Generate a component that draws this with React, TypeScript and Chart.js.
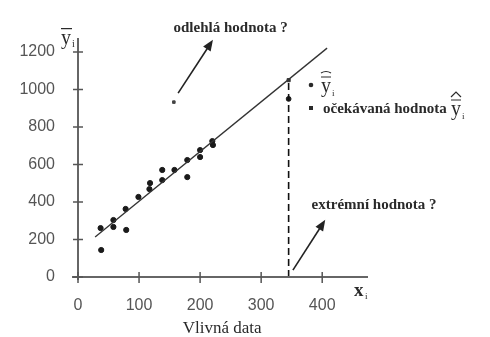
import React, { useEffect, useRef } from "react";
import { Chart, registerables } from "chart.js";

Chart.register(...registerables);

const xTicks = [0, 100, 200, 300, 400];
const yTicks = [0, 200, 400, 600, 800, 1000, 1200];
const obsX = [37, 38, 58, 58, 79, 78, 99, 118, 117, 138, 138, 158, 179, 179, 200, 200, 220, 221];
const obsY = [261, 144, 304, 267, 251, 363, 427, 501, 469, 571, 517, 571, 624, 533, 677, 640, 725, 704];
const fitX = [28, 408];
const fitY = [213, 1221];
const outlierX = [157];
const outlierY = [933];
const extremeX = [345];
const extremeY = [950];
const extremeFitY = [1050];
const dashX = [345, 345];
const dashY = [0, 1050];

const SERIF = "'Liberation Serif', 'DejaVu Serif', serif";
const SANS = "'Liberation Sans', Arial, sans-serif";

function drawArrow(ctx: CanvasRenderingContext2D, x1: number, y1: number, x2: number, y2: number) {
  const ang = Math.atan2(y2 - y1, x2 - x1);
  const hl = 11, hw = 4.5;
  ctx.save();
  ctx.strokeStyle = "#222";
  ctx.fillStyle = "#222";
  ctx.lineWidth = 1.6;
  ctx.beginPath();
  ctx.moveTo(x1, y1);
  ctx.lineTo(x2 - Math.cos(ang) * hl * 0.8, y2 - Math.sin(ang) * hl * 0.8);
  ctx.stroke();
  ctx.beginPath();
  ctx.moveTo(x2, y2);
  ctx.lineTo(x2 - Math.cos(ang) * hl - Math.sin(ang) * hw, y2 - Math.sin(ang) * hl + Math.cos(ang) * hw);
  ctx.lineTo(x2 - Math.cos(ang) * hl + Math.sin(ang) * hw, y2 - Math.sin(ang) * hl - Math.cos(ang) * hw);
  ctx.closePath();
  ctx.fill();
  ctx.restore();
}

const decorPlugin = {
  id: "decor",
  afterDraw(chart: any) {
    const ctx: CanvasRenderingContext2D = chart.ctx;
    const xs = chart.scales.x;
    const ys = chart.scales.y;
    const x0 = xs.getPixelForValue(0);
    const y0 = ys.getPixelForValue(0);
    ctx.save();
    // axes
    ctx.strokeStyle = "#666";
    ctx.lineWidth = 2;
    ctx.beginPath();
    ctx.moveTo(x0, y0 + 3);
    ctx.lineTo(x0, chart.chartArea.top);
    ctx.moveTo(x0 - 6, y0);
    ctx.lineTo(chart.chartArea.right, y0);
    ctx.stroke();
    ctx.lineWidth = 1.5;
    ctx.strokeStyle = "#555";
    ctx.beginPath();
    yTicks.forEach((v) => {
      const p = ys.getPixelForValue(v);
      ctx.moveTo(x0 - 5, p);
      ctx.lineTo(x0 + 5, p);
    });
    xTicks.forEach((v) => {
      const p = xs.getPixelForValue(v);
      ctx.moveTo(p, y0 - 5);
      ctx.lineTo(p, y0 + 6);
    });
    ctx.stroke();

    // texts
    ctx.fillStyle = "#2a2a2a";
    ctx.font = `bold 15px ${SERIF}`;
    ctx.textAlign = "center";
    ctx.textBaseline = "middle";
    ctx.fillText("odlehlá hodnota ?", xs.getPixelForValue(250), ys.getPixelForValue(1330));
    ctx.fillText("extrémní hodnota ?", xs.getPixelForValue(485), ys.getPixelForValue(385));
    ctx.font = `17px ${SERIF}`;
    ctx.fillText("Vlivná data", xs.getPixelForValue(236), ys.getPixelForValue(-273));

    // arrows
    drawArrow(ctx, xs.getPixelForValue(164), ys.getPixelForValue(981), xs.getPixelForValue(221), ys.getPixelForValue(1265));
    drawArrow(ctx, xs.getPixelForValue(352), ys.getPixelForValue(37), xs.getPixelForValue(405), ys.getPixelForValue(305));

    // y axis label  (y with bar, subscript i)
    ctx.textAlign = "left";
    ctx.textBaseline = "alphabetic";
    ctx.font = `20px ${SERIF}`;
    const yl = x0 - 17, yb = ys.getPixelForValue(1245);
    ctx.fillText("y", yl, yb);
    ctx.font = `10px ${SERIF}`;
    ctx.fillText("i", yl + 11, yb + 3);
    ctx.lineWidth = 1.2;
    ctx.strokeStyle = "#2a2a2a";
    ctx.beginPath();
    ctx.moveTo(yl, yb - 15);
    ctx.lineTo(yl + 11, yb - 15);
    ctx.stroke();

    // x axis label
    ctx.font = `bold 19px ${SERIF}`;
    const xl = xs.getPixelForValue(452), xb = ys.getPixelForValue(-100);
    ctx.fillText("x", xl, xb);
    ctx.font = `9px ${SERIF}`;
    ctx.fillText("i", xl + 11, xb + 3);

    // legend
    const lx = 311;
    ctx.beginPath();
    ctx.arc(lx, 85, 2.3, 0, Math.PI * 2);
    ctx.fill();
    ctx.font = `20px ${SERIF}`;
    ctx.fillText("y", 321, 92);
    ctx.font = `9px ${SERIF}`;
    ctx.fillText("i", 332, 96);
    ctx.beginPath();
    ctx.moveTo(321, 77);
    ctx.lineTo(331, 77);
    ctx.moveTo(321, 73);
    ctx.quadraticCurveTo(326, 70, 331, 73);
    ctx.stroke();

    ctx.fillRect(lx - 2, 106, 4, 4);
    ctx.font = `bold 15px ${SERIF}`;
    ctx.fillText("očekávaná hodnota", 323, 113);
    ctx.font = `20px ${SERIF}`;
    const hx = 451;
    ctx.fillText("y", hx, 115);
    ctx.font = `9px ${SERIF}`;
    ctx.fillText("i", hx + 11, 119);
    ctx.beginPath();
    ctx.moveTo(hx, 100);
    ctx.lineTo(hx + 10, 100);
    ctx.moveTo(hx, 97);
    ctx.lineTo(hx + 5, 92);
    ctx.lineTo(hx + 10, 97);
    ctx.stroke();
    ctx.restore();
  },
};

export default function App() {
  const ref = useRef<HTMLCanvasElement | null>(null);
  useEffect(() => {
    document.body.style.margin = "0";
    const canvas = ref.current;
    if (!canvas) return;
    const chart = new Chart(canvas, {
      type: "scatter",
      data: {
        datasets: [
          {
            type: "line",
            data: fitX.map((x, i) => ({ x, y: fitY[i] })),
            borderColor: "#333",
            borderWidth: 1.3,
            pointRadius: 0,
          } as any,
          {
            type: "line",
            data: dashX.map((x, i) => ({ x, y: dashY[i] })),
            borderColor: "#111",
            borderWidth: 1.6,
            borderDash: [7, 4],
            pointRadius: 0,
          } as any,
          {
            data: obsX.map((x, i) => ({ x, y: obsY[i] })),
            backgroundColor: "#1a1a1a",
            borderColor: "#1a1a1a",
            pointRadius: 2.6,
          },
          {
            data: outlierX.map((x, i) => ({ x, y: outlierY[i] })),
            backgroundColor: "#444",
            borderColor: "#444",
            pointStyle: "rect",
            pointRadius: 1.8,
          },
          {
            data: extremeX.map((x, i) => ({ x, y: extremeY[i] })),
            backgroundColor: "#1a1a1a",
            borderColor: "#1a1a1a",
            pointRadius: 2.4,
          },
          {
            data: extremeX.map((x, i) => ({ x, y: extremeFitY[i] })),
            backgroundColor: "#333",
            borderColor: "#333",
            pointStyle: "rect",
            pointRadius: 2.2,
          },
        ],
      },
      plugins: [decorPlugin],
      options: {
        animation: false,
        responsive: false,
        devicePixelRatio: 1,
        clip: false as any,
        layout: { padding: { left: 0, top: 38, right: 122, bottom: 0 } },
        plugins: { legend: { display: false }, tooltip: { enabled: false } },
        scales: {
          x: {
            type: "linear",
            min: 0,
            max: 475,
            grid: { display: false },
            border: { display: false },
            afterBuildTicks: (s: any) => {
              s.ticks = xTicks.map((v) => ({ value: v }));
            },
            afterFit: (s: any) => {
              s.height = 60;
            },
            ticks: {
              padding: 11,
              color: "#555",
              font: { family: SANS, size: 16 },
              maxRotation: 0,
              callback: (v: any) => String(v),
            },
          },
          y: {
            type: "linear",
            min: 0,
            max: 1275,
            grid: { display: false },
            border: { display: false },
            afterBuildTicks: (s: any) => {
              s.ticks = yTicks.map((v) => ({ value: v }));
            },
            afterFit: (s: any) => {
              s.width = 78;
            },
            ticks: {
              padding: 15,
              color: "#555",
              font: { family: SANS, size: 16 },
              callback: (v: any) => String(v),
            },
          },
        },
      },
    });
    return () => chart.destroy();
  }, []);
  return (
    <div style={{ width: 490, height: 337, background: "#fff" }}>
      <canvas ref={ref} width={490} height={337} />
    </div>
  );
}
